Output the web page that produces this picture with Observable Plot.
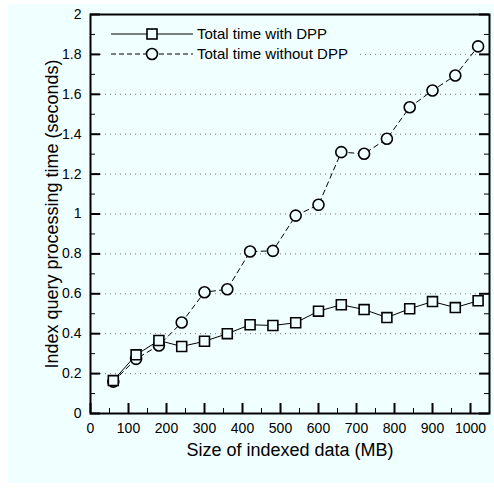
<!DOCTYPE html>
<html>
<head>
<meta charset="utf-8">
<script src="https://cdn.jsdelivr.net/npm/d3@7"></script>
<script src="https://cdn.jsdelivr.net/npm/@observablehq/plot@0.6"></script>
<style>
  html, body { margin: 0; padding: 0; background: #ffffff; }
  #wrap { position: relative; width: 494px; height: 493px; }
  #bg { position: absolute; left: 8px; top: 4px; width: 486px; height: 479px; background: #f0ffff; }
  #chart { position: absolute; left: 0; top: 0; }
  #chart svg { display: block; }
</style>
</head>
<body>
<div id="wrap"><div id="bg"></div><div id="chart"></div></div>
<script>
const sizes = [60, 120, 180, 240, 300, 360, 420, 480, 540, 600, 660, 720, 780, 840, 900, 960, 1020];
const withDPP = [0.165, 0.294, 0.366, 0.336, 0.362, 0.400, 0.445, 0.441, 0.455, 0.513, 0.545, 0.521, 0.481, 0.525, 0.561, 0.531, 0.565];
const withoutDPP = [0.160, 0.274, 0.341, 0.456, 0.608, 0.623, 0.812, 0.815, 0.992, 1.046, 1.310, 1.302, 1.377, 1.535, 1.619, 1.694, 1.840];
const seriesNames = ["Total time with DPP", "Total time without DPP"];
const yMajor = [0, 0.2, 0.4, 0.6, 0.8, 1, 1.2, 1.4, 1.6, 1.8, 2];
const yMinor = [0.1, 0.3, 0.5, 0.7, 0.9, 1.1, 1.3, 1.5, 1.7, 1.9];
const yGrid = [0.2, 0.4, 0.6, 0.8, 1, 1.2, 1.4, 1.6, 1.8];
const xMajor = [0, 100, 200, 300, 400, 500, 600, 700, 800, 900, 1000];
const xMinor = [50, 150, 250, 350, 450, 550, 650, 750, 850, 950, 1050];
const xDomain = [0, 1050];
const yDomain = [0, 2];
const xLabel = "Size of indexed data (MB)";
const yLabel = "Index query processing time (seconds)";

const dataA = sizes.map((s, i) => ({x: s, y: withDPP[i]}));
const dataB = sizes.map((s, i) => ({x: s, y: withoutDPP[i]}));
const FONT = "'Liberation Sans', Arial, Helvetica, sans-serif";
const BG = "#f0ffff";
const fmt = d => String(+d.toFixed(1));

const W = 494, H = 493, ML = 90, MR = 5, MT = 14, MB = 80;
const PW = W - ML - MR, PH = H - MT - MB;
// tick lengths in pixels, converted to data units for inward tick rules
const MAJ = 10, MIN = 5;
const xPer = (xDomain[1] - xDomain[0]) / PW;
const yPer = (yDomain[1] - yDomain[0]) / PH;
const xLo = xDomain[0], xHi = xDomain[1], yLo = yDomain[0];

const plot = Plot.plot({
  width: W,
  height: H,
  marginLeft: ML,
  marginRight: MR,
  marginTop: MT,
  marginBottom: MB,
  style: {background: "transparent", fontFamily: FONT, fontSize: "14px", color: "black"},
  x: {domain: xDomain},
  y: {domain: yDomain},
  marks: [
    Plot.ruleY(yGrid, {stroke: "#777", strokeWidth: 1, strokeDasharray: "1,4"}),
    // inward ticks (left, right, bottom)
    Plot.ruleY(yMajor, {y: d => d, x1: xLo, x2: xLo + MAJ * xPer, stroke: "black", strokeWidth: 2}),
    Plot.ruleY(yMinor, {y: d => d, x1: xLo, x2: xLo + MIN * xPer, stroke: "black", strokeWidth: 1}),
    Plot.ruleY(yMajor, {y: d => d, x1: xHi - MAJ * xPer, x2: xHi, stroke: "black", strokeWidth: 2}),
    Plot.ruleY(yMinor, {y: d => d, x1: xHi - MIN * xPer, x2: xHi, stroke: "black", strokeWidth: 1}),
    Plot.ruleX(xMajor, {x: d => d, y1: yLo, y2: yLo + MAJ * yPer, stroke: "black", strokeWidth: 2}),
    Plot.ruleX(xMinor, {x: d => d, y1: yLo, y2: yLo + MIN * yPer, stroke: "black", strokeWidth: 1}),
    // tick labels
    Plot.axisY({anchor: "left", ticks: yMajor, tickSize: 0, tickPadding: 9, tickFormat: fmt, label: null, fontSize: 14}),
    Plot.axisX({anchor: "bottom", ticks: xMajor, tickSize: 0, tickPadding: 10, tickFormat: fmt, label: null, fontSize: 14}),
    // axis labels
    Plot.text([xLabel], {frameAnchor: "bottom", dy: 42, lineAnchor: "bottom", textAnchor: "middle", fontSize: 18, fill: "black"}),
    Plot.text([yLabel], {frameAnchor: "left", dx: -33, rotate: -90, lineAnchor: "bottom", textAnchor: "middle", fontSize: 18, fill: "black"}),
    Plot.frame({stroke: "black", strokeWidth: 2}),
    // series
    Plot.line(dataB, {x: "x", y: "y", stroke: "black", strokeWidth: 1, strokeDasharray: "5,4"}),
    Plot.line(dataA, {x: "x", y: "y", stroke: "black", strokeWidth: 1}),
    Plot.dot(dataB, {x: "x", y: "y", symbol: "circle", r: 5.5, fill: BG, stroke: "black", strokeWidth: 1.6}),
    Plot.dot(dataA, {x: "x", y: "y", symbol: "square", r: 5.6, fill: BG, stroke: "black", strokeWidth: 1.6})
  ]
});
document.getElementById("chart").appendChild(plot);

// Legend (pixel placed)
const svg = d3.select(plot);
const lg = svg.append("g").attr("font-family", FONT).attr("font-size", 15).attr("text-anchor", "start");
lg.append("rect").attr("x", 104).attr("y", 22).attr("width", 254).attr("height", 42).attr("fill", BG);
const rows = [
  {name: seriesNames[0], y: 34, dash: null, sym: "square"},
  {name: seriesNames[1], y: 54, dash: "5,3", sym: "circle"}
];
rows.forEach(r => {
  lg.append("line").attr("x1", 111).attr("x2", 193).attr("y1", r.y).attr("y2", r.y)
    .attr("stroke", "black").attr("stroke-width", 1).attr("stroke-dasharray", r.dash);
  if (r.sym === "square") {
    lg.append("rect").attr("x", 152 - 5).attr("y", r.y - 5).attr("width", 10).attr("height", 10)
      .attr("fill", BG).attr("stroke", "black").attr("stroke-width", 1.6);
  } else {
    lg.append("circle").attr("cx", 152).attr("cy", r.y).attr("r", 5.5)
      .attr("fill", BG).attr("stroke", "black").attr("stroke-width", 1.6);
  }
  lg.append("text").attr("x", 197).attr("y", r.y).attr("dy", "0.35em").attr("fill", "black")
    .attr("text-anchor", "start").text(r.name);
});
</script>
</body>
</html>
